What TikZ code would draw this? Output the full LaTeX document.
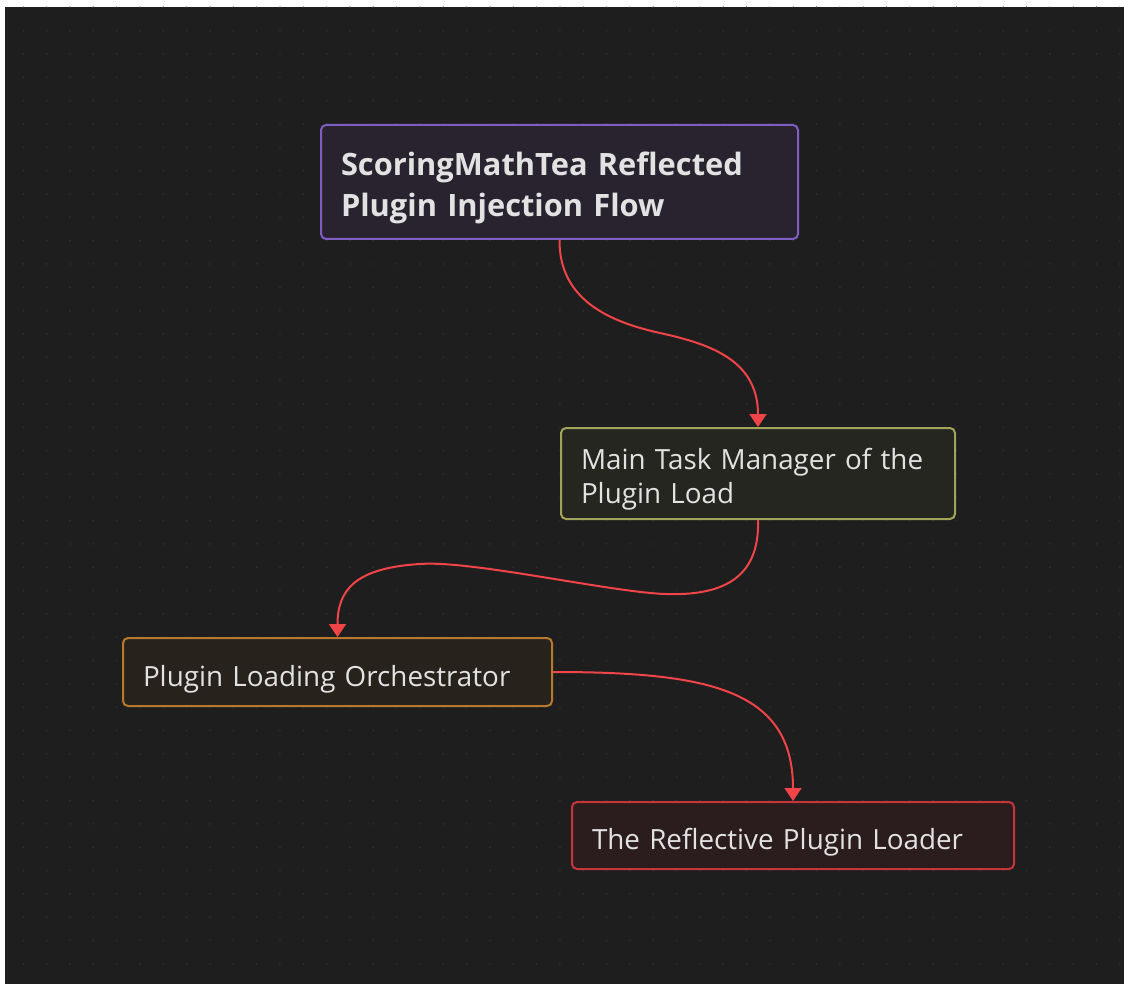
\documentclass[tikz,border=0pt]{standalone}
\usepackage{fontspec}
\setmainfont{Open Sans}
\usetikzlibrary{arrows.meta}
\definecolor{bgc}{HTML}{1E1E1E}
\definecolor{dotc}{HTML}{303030}
\definecolor{txt}{HTML}{E2E2E2}
\definecolor{edgec}{HTML}{F04448}
\definecolor{purpB}{HTML}{7E5EC2}
\definecolor{purpF}{HTML}{29232F}
\definecolor{oliveB}{HTML}{A3A35A}
\definecolor{oliveF}{HTML}{262620}
\definecolor{orangeB}{HTML}{B8782E}
\definecolor{orangeF}{HTML}{28221C}
\definecolor{redB}{HTML}{C8343C}
\definecolor{redF}{HTML}{2B1D1E}
\tikzset{
  box/.style={draw, line width=2pt, rounded corners=5pt, text=txt, align=left,
    inner xsep=20pt, inner ysep=0pt},
  conn/.style={draw=edgec, line width=2pt, -{Triangle[length=13pt,width=17pt]}},
}
\begin{document}
\begin{tikzpicture}[x=1pt,y=-1pt]
\useasboundingbox (0,0) rectangle (1124,984);
\fill[white] (0,0) rectangle (1124,984);
\fill[bgc] (5,7) rectangle (1124,984);
\foreach \i in {1,...,48}{
  \foreach \j in {0,...,41}{
    \fill[dotc] ({23.33*\i},{7.33+23.33*\j}) circle (0.9pt);
  }
}
\node[box, draw=purpB, fill=purpF, text width=437pt, minimum height=114pt,
  text height=24pt, text depth=36pt,
  font=\fontsize{30.8}{41}\selectfont\bfseries] (n1) at (559.5,182)
  {ScoringMathTea Reflected\\Plugin Injection Flow};
\node[box, draw=oliveB, fill=oliveF, text width=354pt, minimum height=91pt,
  text height=20pt, text depth=29pt,
  font=\fontsize{27.8}{34}\selectfont] (n2) at (758,473.5)
  {Main Task Manager of the\\Plugin Load};
\node[box, draw=orangeB, fill=orangeF, text width=389pt, minimum height=68pt,
  text height=28pt, text depth=0pt,
  font=\fontsize{27.8}{34}\selectfont] (n3) at (337.5,672)
  {Plugin Loading Orchestrator};
\node[box, draw=redB, fill=redF, text width=402pt, minimum height=67pt,
  text height=27pt, text depth=0pt,
  font=\fontsize{27.8}{34}\selectfont] (n4) at (793,835.5)
  {The Reflective Plugin Loader};
\draw[conn] (n1.south) .. controls (559,300) and (610,322) .. (660,333)
  .. controls (710,344) and (758,360) .. (n2.north);
\draw[conn] (n2.south) .. controls (760,580) and (720,596) .. (665,594)
  .. controls (610,592) and (470,560) .. (420,564)
  .. controls (355,568) and (337.5,590) .. (n3.north);
\draw[conn] (n3.east) .. controls (710,672) and (793,690) .. (n4.north);
\end{tikzpicture}
\end{document}
